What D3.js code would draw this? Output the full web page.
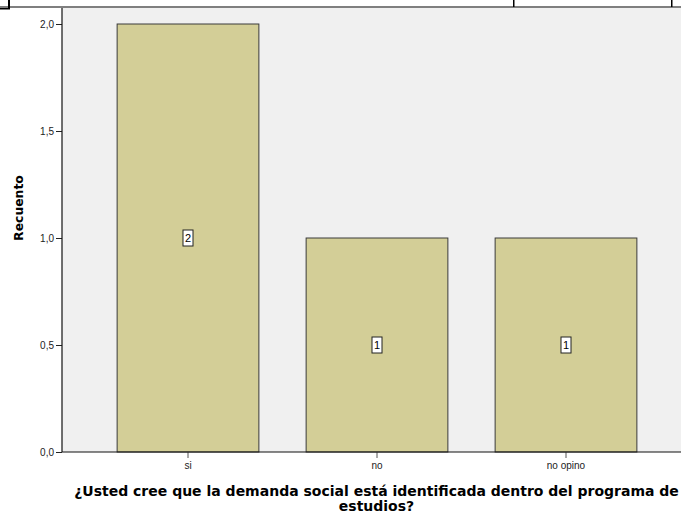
<!DOCTYPE html>
<html>
<head>
<meta charset="utf-8">
<script src="https://cdn.jsdelivr.net/npm/d3@7"></script>
<style>
  body { margin: 0; background: #fff; }
  svg { display: block; }
</style>
</head>
<body>
<div id="chart"></div>
<script>
const categories = ['si', 'no', 'no opino'];
const counts = [2, 1, 1];
const yTicks = [0, 0.5, 1.0, 1.5, 2.0];
const yTitle = 'Recuento';
const xTitleLines = ['¿Usted cree que la demanda social está identificada dentro del programa de', 'estudios?'];

document.addEventListener('DOMContentLoaded', function () {
  const w = 681, h = 518;
  const svg = d3.select('#chart').append('svg')
    .attr('width', w)
    .attr('height', h);

  // frame bits at the top (table border from the source document)
  svg.append('line').attr('x1', 0).attr('x2', w).attr('y1', 7).attr('y2', 7)
    .attr('stroke', '#000').attr('stroke-width', 1.2);
  svg.append('rect').attr('x', 8).attr('y', 0).attr('width', 2).attr('height', 9).attr('fill', '#000');
  svg.append('rect').attr('x', 0).attr('y', 8).attr('width', 10).attr('height', 1.5).attr('fill', '#000');
  [513, 671].forEach(x => {
    svg.append('rect').attr('x', x).attr('y', 0).attr('width', 1.5).attr('height', 7).attr('fill', '#000');
  });

  const left = 62, top = 8, bottom = 452, right = w;

  svg.append('rect')
    .attr('x', left).attr('y', top)
    .attr('width', right - left).attr('height', bottom - top)
    .attr('fill', '#f0f0f0');

  const x = d3.scaleBand()
    .domain(categories)
    .range([93.5, 660.5])
    .paddingInner(0.25)
    .paddingOuter(0.125);

  const y = d3.scaleLinear()
    .domain([0, 2])
    .range([bottom, 24]);

  svg.selectAll('rect.bar')
    .data(categories)
    .enter()
    .append('rect')
    .attr('class', 'bar')
    .attr('x', d => x(d))
    .attr('y', (d, i) => y(counts[i]))
    .attr('width', x.bandwidth())
    .attr('height', (d, i) => y(0) - y(counts[i]))
    .attr('fill', '#d3ce97')
    .attr('stroke', '#3a3a3a')
    .attr('stroke-width', 1);

  // value labels
  const lab = svg.selectAll('g.lab')
    .data(categories)
    .enter()
    .append('g')
    .attr('class', 'lab')
    .attr('transform', (d, i) => 'translate(' + (x(d) + x.bandwidth() / 2) + ',' + y(counts[i] / 2) + ')');
  lab.append('rect')
    .attr('x', -5).attr('y', -8).attr('width', 10).attr('height', 16)
    .attr('fill', '#fff').attr('stroke', '#222').attr('stroke-width', 1);
  lab.append('text')
    .attr('text-anchor', 'middle')
    .attr('dy', '0.36em')
    .attr('font-family', 'Liberation Sans, Arial, sans-serif')
    .attr('font-size', 11)
    .text((d, i) => counts[i]);

  const fmt = v => d3.format('.1f')(v).replace('.', ',');

  const yAxis = d3.axisLeft(y).tickValues(yTicks).tickFormat(fmt).tickSize(6).tickPadding(2);
  const gy = svg.append('g').attr('transform', 'translate(' + left + ',0)').call(yAxis);
  gy.select('.domain').remove();
  gy.selectAll('.tick line').attr('stroke', '#222');
  gy.selectAll('.tick text').attr('font-family', 'Liberation Sans, Arial, sans-serif').attr('font-size', 10).attr('fill', '#222');
  svg.append('line').attr('x1', left).attr('x2', left).attr('y1', top).attr('y2', bottom)
    .attr('stroke', '#111').attr('stroke-width', 1.2);

  const xAxis = d3.axisBottom(x).tickSize(6).tickPadding(4);
  const gx = svg.append('g').attr('transform', 'translate(0,' + bottom + ')').call(xAxis);
  gx.select('.domain').remove();
  gx.selectAll('.tick line').attr('stroke', '#555');
  gx.selectAll('.tick text').attr('font-family', 'Liberation Sans, Arial, sans-serif').attr('font-size', 10).attr('fill', '#222');
  svg.append('line').attr('x1', left).attr('x2', right).attr('y1', bottom).attr('y2', bottom)
    .attr('stroke', '#111').attr('stroke-width', 1.2);

  svg.append('text')
    .attr('transform', 'translate(23,208) rotate(-90)')
    .attr('text-anchor', 'middle')
    .attr('font-family', 'DejaVu Sans, Verdana, sans-serif')
    .attr('font-weight', 'bold')
    .attr('font-size', 12.4)
    .text(yTitle);

  svg.selectAll('text.xtitle')
    .data(xTitleLines)
    .enter()
    .append('text')
    .attr('class', 'xtitle')
    .attr('x', 376.5)
    .attr('y', (d, i) => 496 + i * 15)
    .attr('text-anchor', 'middle')
    .attr('font-family', 'DejaVu Sans, Verdana, sans-serif')
    .attr('font-weight', 'bold')
    .attr('font-size', 14)
    .text(d => d);
});
</script>
</body>
</html>
